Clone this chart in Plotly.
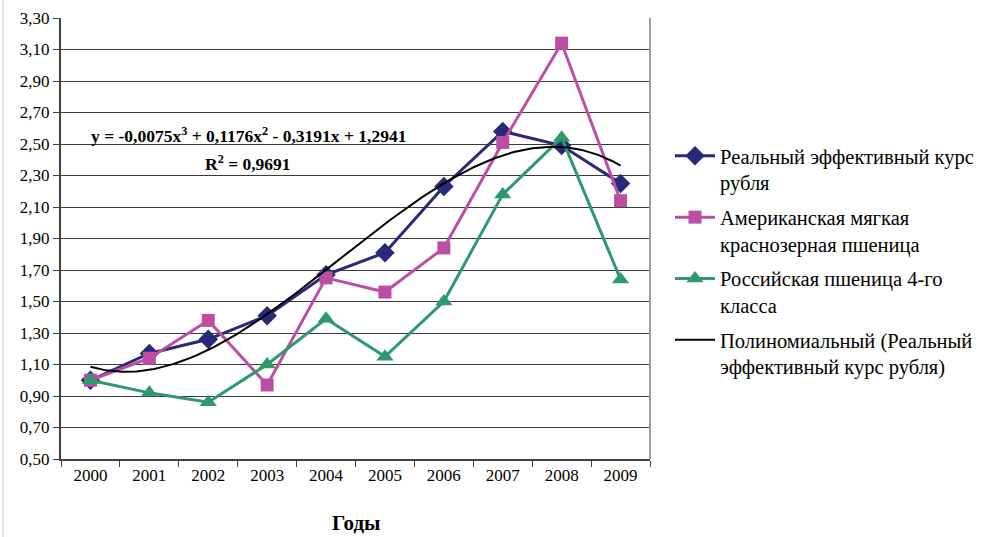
import numpy as np
import plotly.graph_objects as go

years = ["2000", "2001", "2002", "2003", "2004", "2005", "2006", "2007", "2008", "2009"]
ruble_reer = [1.00, 1.17, 1.26, 1.41, 1.67, 1.81, 2.23, 2.58, 2.49, 2.25]
us_red_wheat = [1.00, 1.14, 1.38, 0.97, 1.65, 1.56, 1.84, 2.51, 3.14, 2.14]
ru_wheat_4 = [1.00, 0.92, 0.86, 1.10, 1.39, 1.15, 1.50, 2.18, 2.54, 1.64]

# cubic trend of the ruble series, coefficients as printed on the chart (x = 1..10)
trend_coefs = [-0.0075, 0.1176, -0.3191, 1.2941]
y_ticks = [0.50, 0.70, 0.90, 1.10, 1.30, 1.50, 1.70, 1.90, 2.10, 2.30, 2.50, 2.70, 2.90, 3.10, 3.30]

NAVY = "#29297A"
PINK = "#BC4FA4"
GREEN = "#2E9A6B"
SERIF = "Times New Roman, Liberation Serif, DejaVu Serif, serif"

# plot area in pixels
PL, PR, PT, PB = 61, 650, 18, 459
PW, PH = PR - PL, PB - PT

fig = go.Figure()

fig.add_trace(go.Scatter(
    x=years, y=ruble_reer, mode="lines+markers", legendgroup="reer",
    name="Реальный эффективный курс<br>рубля",
    line=dict(color=NAVY, width=3),
    marker=dict(symbol="diamond", size=15, color=NAVY),
))
fig.add_trace(go.Scatter(
    x=years, y=us_red_wheat, mode="lines+markers", legendgroup="us",
    name="Американская мягкая<br>краснозерная пшеница",
    line=dict(color=PINK, width=3),
    marker=dict(symbol="square", size=13, color=PINK),
))
fig.add_trace(go.Scatter(
    x=years, y=ru_wheat_4, mode="lines+markers", legendgroup="ru",
    name="Российская пшеница 4-го<br>класса",
    line=dict(color=GREEN, width=3),
    marker=dict(symbol="triangle-up", size=15, color=GREEN),
))

xs = np.linspace(1, 10, 200)
trend = np.polyval(trend_coefs, xs)
fig.add_trace(go.Scatter(
    x=xs, y=trend, mode="lines", xaxis="x2", legendgroup="trend",
    name="Полиномиальный (Реальный<br>эффективный курс рубля)",
    line=dict(color="black", width=2),
))

fig.update_layout(
    width=983, height=537,
    margin=dict(l=PL, r=983 - PR, t=PT, b=537 - PB, autoexpand=False),
    paper_bgcolor="white", plot_bgcolor="white",
    font=dict(family=SERIF, size=17, color="black"),
    showlegend=True,
    legend=dict(
        x=1 + 20 / PW, xanchor="left", y=1 - 118 / PH, yanchor="top",
        font=dict(family=SERIF, size=20.5, color="black"),
        valign="top", tracegroupgap=5, itemwidth=40,
        bgcolor="rgba(0,0,0,0)",
    ),
    xaxis=dict(
        type="category", range=[-0.5, 9.5], automargin=False,
        tickson="boundaries", ticks="outside", ticklen=6, tickcolor="#404040",
        showline=True, linecolor="#404040", linewidth=2,
        showgrid=False, zeroline=False,
        tickfont=dict(family=SERIF, size=17),
    ),
    xaxis2=dict(
        overlaying="x", range=[0.5, 10.5], visible=False,
    ),
    yaxis=dict(
        range=[0.5, 3.3], tickvals=y_ticks, automargin=False,
        ticktext=[f"{v:.2f}".replace(".", ",") for v in y_ticks],
        ticks="outside", ticklen=6, tickcolor="#404040",
        showline=True, linecolor="#404040", linewidth=2,
        showgrid=True, gridcolor="#3a3a3a", gridwidth=1,
        zeroline=False,
        tickfont=dict(family=SERIF, size=17),
    ),
)

# right border of the plot area
fig.add_shape(type="line", xref="paper", yref="paper", x0=1, x1=1, y0=0, y1=1,
              line=dict(color="#A0A0A0", width=2))
# thin frame line along the left edge of the image
fig.add_shape(type="line", xref="paper", yref="paper",
              x0=-(PL - 3) / PW, x1=-(PL - 3) / PW, y0=-(537 - PB) / PH, y1=1 + PT / PH,
              line=dict(color="#C8C8C8", width=1))

# x-axis title
fig.add_annotation(
    xref="paper", yref="paper", x=(356 - PL) / PW, y=-(523 - PB) / PH,
    showarrow=False, xanchor="center", yanchor="middle",
    text="<b>Годы</b>", font=dict(family=SERIF, size=21, color="black"),
)

# trend equation and R²
fig.add_annotation(
    xref="paper", yref="y", x=(248 - PL) / PW, y=2.56, showarrow=False,
    xanchor="center", yanchor="middle",
    text="<b>y = -0,0075x<sup>3</sup> + 0,1176x<sup>2</sup> - 0,3191x + 1,2941</b>",
    font=dict(family=SERIF, size=17.5, color="black"),
)
fig.add_annotation(
    xref="paper", yref="y", x=(248 - PL) / PW, y=2.38, showarrow=False,
    xanchor="center", yanchor="middle",
    text="<b>R<sup>2</sup> = 0,9691</b>",
    font=dict(family=SERIF, size=17.5, color="black"),
)

fig.write_html("out.html")
